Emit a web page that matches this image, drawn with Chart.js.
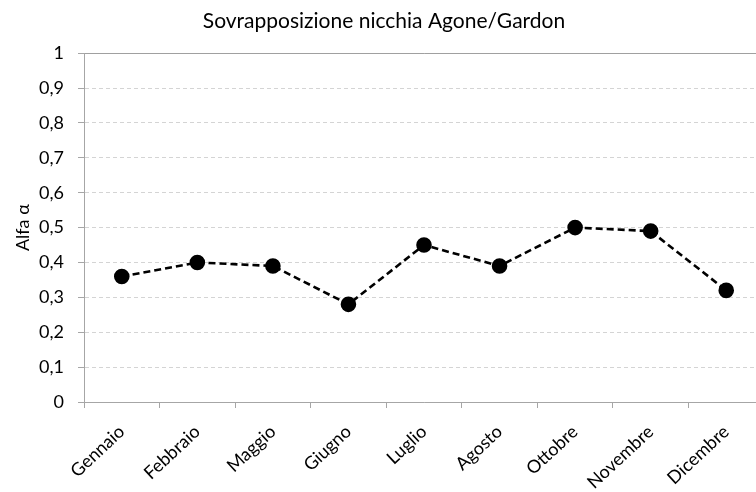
<!DOCTYPE html>
<html>
<head>
<meta charset="utf-8">
<script src="https://cdn.jsdelivr.net/npm/chart.js@4"></script>
<style>
  html, body { margin: 0; padding: 0; background: #fff; overflow: hidden; }
  canvas { display: block; }
</style>
</head>
<body>
<canvas id="c" width="764" height="492" style="width:764px;height:492px"></canvas>
<script>
const categories = ["Gennaio", "Febbraio", "Maggio", "Giugno", "Luglio", "Agosto", "Ottobre", "Novembre", "Dicembre"];
const alfaValues = [0.36, 0.40, 0.39, 0.28, 0.45, 0.39, 0.50, 0.49, 0.32];
const chartTitle = "Sovrapposizione nicchia Agone/Gardon";
const yAxisTitle = "Alfa α";

const FONT = "Lato, 'Open Sans', sans-serif";
const PAD_LEFT = 4;

new Chart(document.getElementById('c'), {
  type: 'line',
  data: {
    labels: categories,
    datasets: [{
      data: alfaValues,
      borderColor: '#000',
      backgroundColor: '#000',
      borderWidth: 2.6,
      borderDash: [7, 4],
      pointRadius: 6.5,
      pointHoverRadius: 6.5,
      pointBackgroundColor: '#000',
      pointBorderColor: '#000',
      tension: 0,
      fill: false
    }]
  },
  options: {
    responsive: false,
    maintainAspectRatio: false,
    devicePixelRatio: 1,
    animation: false,
    layout: { autoPadding: false, padding: { left: PAD_LEFT, right: 0, top: 9, bottom: 0 } },
    plugins: {
      legend: { display: false },
      tooltip: { enabled: false },
      title: {
        display: true,
        text: chartTitle,
        color: '#000',
        font: { family: FONT, size: 21, weight: 'normal' },
        padding: { top: 0, bottom: 19 }
      }
    },
    scales: {
      x: {
        offset: true,
        afterFit: s => { s.height = 90; s.paddingLeft = 0; s.paddingRight = 0; },
        grid: {
          display: true,
          offset: true,
          drawOnChartArea: false,
          drawTicks: true,
          tickLength: 6,
          color: '#a6a6a6',
          lineWidth: 1
        },
        border: { display: true, color: '#a6a6a6', width: 1 },
        ticks: {
          color: '#000',
          font: { family: FONT, size: 18 },
          minRotation: 43,
          maxRotation: 43,
          autoSkip: false,
          padding: 13
        }
      },
      xTop: {
        type: 'category',
        position: 'top',
        offset: true,
        afterFit: s => { s.height = 0; s.paddingLeft = 0; s.paddingRight = 0; },
        grid: { display: false },
        ticks: { display: false },
        border: { display: true, color: '#a0a0a0', width: 1 }
      },
      y: {
        min: 0,
        max: 1,
        afterFit: s => { s.width = 84 - PAD_LEFT; },
        ticks: {
          stepSize: 0.1,
          color: '#000',
          font: { family: FONT, size: 18 },
          padding: 14,
          callback: v => String(Math.round(v * 10) / 10).replace('.', ',')
        },
        grid: {
          color: '#d4d4d4',
          lineWidth: 1,
          tickLength: 6,
          tickColor: '#a6a6a6',
          drawTicks: true
        },
        border: { display: true, color: '#a6a6a6', width: 1, dash: [4, 3] },
        title: {
          display: true,
          text: yAxisTitle,
          color: '#000',
          font: { family: FONT, size: 18 },
          padding: { top: 8, bottom: 0 }
        }
      }
    }
  }
});
</script>
</body>
</html>
